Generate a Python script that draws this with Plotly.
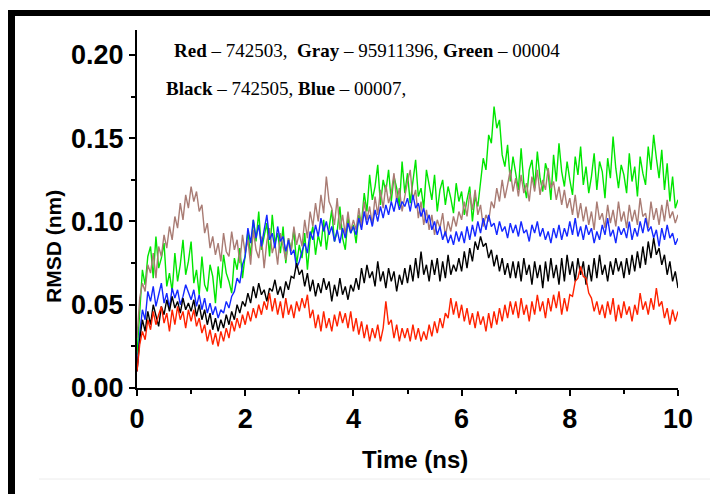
import plotly.graph_objects as go

time_ns = [round(i * 0.05, 2) for i in range(201)]

green = [
    0.020, 0.048, 0.071, 0.062, 0.079, 0.085, 0.066, 0.091, 0.072, 0.078, 0.087, 0.061, 0.069, 0.058, 0.081, 0.064, 0.074, 0.089, 0.068, 0.076,
    0.088, 0.063, 0.071, 0.056, 0.079, 0.062, 0.058, 0.074, 0.067, 0.051, 0.073, 0.060, 0.080, 0.069, 0.064, 0.057, 0.078, 0.071, 0.084, 0.066,
    0.081, 0.094, 0.079, 0.101, 0.088, 0.106, 0.083, 0.091, 0.099, 0.079, 0.104, 0.087, 0.093, 0.081, 0.097, 0.075, 0.090, 0.083, 0.095, 0.074,
    0.086, 0.078, 0.093, 0.071, 0.089, 0.097, 0.080, 0.092, 0.085, 0.101, 0.083, 0.096, 0.107, 0.088, 0.094, 0.109, 0.090, 0.083, 0.102, 0.093,
    0.098, 0.087, 0.104, 0.099, 0.117, 0.106, 0.128, 0.113, 0.121, 0.134, 0.110, 0.125, 0.118, 0.131, 0.112, 0.127, 0.120, 0.109, 0.136, 0.117,
    0.129, 0.111, 0.124, 0.137, 0.115, 0.120, 0.108, 0.131, 0.122, 0.113, 0.128, 0.106, 0.119, 0.125, 0.110, 0.121, 0.114, 0.105, 0.123, 0.112,
    0.118, 0.104, 0.113, 0.121, 0.100, 0.115, 0.109, 0.125, 0.138, 0.131, 0.152, 0.147, 0.169, 0.156, 0.161, 0.140, 0.133, 0.146, 0.124, 0.139,
    0.128, 0.119, 0.144, 0.123, 0.114, 0.131, 0.137, 0.120, 0.142, 0.126, 0.118, 0.135, 0.129, 0.113, 0.140, 0.124, 0.147, 0.130, 0.121, 0.136,
    0.125, 0.116, 0.139, 0.128, 0.145, 0.122, 0.133, 0.117, 0.127, 0.141, 0.119, 0.136, 0.130, 0.114, 0.138, 0.126, 0.151, 0.132, 0.120, 0.134,
    0.128, 0.117, 0.141, 0.124, 0.133, 0.115, 0.139, 0.129, 0.122, 0.145, 0.131, 0.152, 0.138, 0.126, 0.143, 0.119, 0.135, 0.112, 0.127, 0.108,
    0.113,
]

gray = [
    0.030, 0.054, 0.063, 0.058, 0.074, 0.069, 0.081, 0.066, 0.085, 0.079, 0.092, 0.084, 0.097, 0.089, 0.103, 0.096, 0.111, 0.101, 0.116, 0.108,
    0.121, 0.112, 0.118, 0.106, 0.110, 0.093, 0.099, 0.084, 0.091, 0.080, 0.087, 0.076, 0.093, 0.082, 0.079, 0.094, 0.083, 0.089, 0.075, 0.092,
    0.081, 0.089, 0.074, 0.095, 0.083, 0.078, 0.091, 0.072, 0.088, 0.096, 0.081, 0.087, 0.074, 0.093, 0.085, 0.077, 0.090, 0.082, 0.097, 0.086,
    0.093, 0.085, 0.101, 0.090, 0.106, 0.097, 0.111, 0.100, 0.116, 0.105, 0.127, 0.112, 0.108, 0.098, 0.114, 0.095, 0.104, 0.092, 0.106, 0.094,
    0.101, 0.095, 0.108, 0.097, 0.112, 0.101, 0.109, 0.098, 0.115, 0.104, 0.119, 0.108, 0.122, 0.111, 0.117, 0.129, 0.112, 0.120, 0.106, 0.116,
    0.124, 0.131, 0.113, 0.119, 0.102, 0.112, 0.098, 0.107, 0.095, 0.104, 0.092, 0.101, 0.096, 0.105, 0.091, 0.100, 0.094, 0.103, 0.097, 0.106,
    0.101, 0.112, 0.103, 0.117, 0.107, 0.119, 0.104, 0.110, 0.097, 0.104, 0.100, 0.112, 0.108, 0.120, 0.112, 0.125, 0.114, 0.122, 0.131, 0.118,
    0.126, 0.115, 0.128, 0.117, 0.123, 0.112, 0.127, 0.118, 0.131, 0.116, 0.125, 0.119, 0.132, 0.120, 0.124, 0.113, 0.121, 0.110, 0.119, 0.108,
    0.114, 0.104, 0.116, 0.102, 0.111, 0.100, 0.109, 0.098, 0.106, 0.095, 0.112, 0.101, 0.105, 0.096, 0.110, 0.099, 0.107, 0.097, 0.112, 0.100,
    0.106, 0.096, 0.110, 0.100, 0.107, 0.098, 0.114, 0.103, 0.105, 0.096, 0.112, 0.101, 0.108, 0.098, 0.110, 0.100, 0.113, 0.102, 0.106, 0.099,
    0.104,
]

blue = [
    0.010, 0.033, 0.047, 0.041, 0.058, 0.052, 0.061, 0.049, 0.056, 0.063, 0.051, 0.057, 0.048, 0.060, 0.054, 0.059, 0.050, 0.055, 0.062, 0.057,
    0.053, 0.059, 0.049, 0.056, 0.047, 0.054, 0.045, 0.051, 0.044, 0.049, 0.042, 0.047, 0.045, 0.052, 0.048, 0.055, 0.058, 0.066, 0.063, 0.074,
    0.079, 0.096, 0.087, 0.101, 0.090, 0.098, 0.085, 0.095, 0.104, 0.089, 0.093, 0.084, 0.097, 0.088, 0.091, 0.082, 0.089, 0.080, 0.083, 0.072,
    0.076, 0.082, 0.087, 0.081, 0.094, 0.089, 0.098, 0.091, 0.102, 0.094, 0.100, 0.092, 0.097, 0.088, 0.095, 0.087, 0.096, 0.090, 0.099, 0.093,
    0.097, 0.092, 0.102, 0.095, 0.106, 0.098, 0.104, 0.097, 0.107, 0.100, 0.109, 0.102, 0.110, 0.104, 0.112, 0.106, 0.114, 0.107, 0.112, 0.109,
    0.114, 0.106, 0.116, 0.108, 0.111, 0.103, 0.108, 0.099, 0.104, 0.095, 0.100, 0.092, 0.097, 0.089, 0.094, 0.087, 0.092, 0.086, 0.094, 0.088,
    0.094, 0.087, 0.097, 0.089, 0.098, 0.091, 0.100, 0.093, 0.102, 0.095, 0.104, 0.097, 0.099, 0.092, 0.100, 0.094, 0.097, 0.090, 0.099, 0.093,
    0.098, 0.091, 0.100, 0.093, 0.095, 0.088, 0.098, 0.093, 0.100, 0.091, 0.096, 0.089, 0.094, 0.087, 0.096, 0.090, 0.098, 0.089, 0.096, 0.091,
    0.100, 0.092, 0.102, 0.091, 0.097, 0.089, 0.098, 0.092, 0.096, 0.087, 0.094, 0.089, 0.098, 0.092, 0.102, 0.091, 0.095, 0.087, 0.097, 0.092,
    0.096, 0.090, 0.100, 0.089, 0.096, 0.091, 0.100, 0.093, 0.102, 0.094, 0.097, 0.090, 0.095, 0.085, 0.096, 0.089, 0.098, 0.090, 0.093, 0.086,
    0.090,
]

black = [
    0.010, 0.029, 0.041, 0.034, 0.046, 0.038, 0.050, 0.043, 0.037, 0.049, 0.044, 0.053, 0.046, 0.055, 0.048, 0.052, 0.045, 0.054, 0.047, 0.051,
    0.046, 0.053, 0.043, 0.050, 0.041, 0.047, 0.038, 0.045, 0.035, 0.042, 0.034, 0.041, 0.036, 0.044, 0.038, 0.046, 0.041, 0.050, 0.045, 0.052,
    0.049, 0.057, 0.051, 0.061, 0.054, 0.063, 0.056, 0.059, 0.052, 0.060, 0.058, 0.065, 0.056, 0.061, 0.054, 0.064, 0.059, 0.067, 0.066, 0.075,
    0.068, 0.071, 0.061, 0.069, 0.058, 0.065, 0.055, 0.063, 0.057, 0.066, 0.059, 0.064, 0.052, 0.062, 0.055, 0.066, 0.056, 0.061, 0.053, 0.062,
    0.058, 0.066, 0.059, 0.072, 0.063, 0.074, 0.066, 0.070, 0.061, 0.076, 0.064, 0.070, 0.060, 0.072, 0.064, 0.070, 0.058, 0.068, 0.062, 0.072,
    0.063, 0.074, 0.064, 0.078, 0.066, 0.082, 0.068, 0.074, 0.064, 0.077, 0.068, 0.078, 0.064, 0.076, 0.066, 0.080, 0.068, 0.074, 0.070, 0.078,
    0.070, 0.082, 0.072, 0.084, 0.076, 0.088, 0.083, 0.091, 0.085, 0.087, 0.078, 0.083, 0.073, 0.080, 0.070, 0.078, 0.068, 0.075, 0.066, 0.076,
    0.066, 0.076, 0.064, 0.078, 0.068, 0.074, 0.062, 0.076, 0.066, 0.074, 0.060, 0.076, 0.064, 0.078, 0.066, 0.074, 0.062, 0.078, 0.064, 0.080,
    0.068, 0.076, 0.064, 0.078, 0.068, 0.076, 0.062, 0.074, 0.064, 0.078, 0.066, 0.080, 0.068, 0.074, 0.064, 0.076, 0.068, 0.078, 0.070, 0.076,
    0.066, 0.078, 0.068, 0.080, 0.070, 0.082, 0.072, 0.085, 0.074, 0.088, 0.078, 0.090, 0.080, 0.084, 0.074, 0.080, 0.068, 0.076, 0.064, 0.070,
    0.060,
]

red = [
    0.010, 0.026, 0.034, 0.029, 0.041, 0.035, 0.046, 0.038, 0.044, 0.049, 0.039, 0.045, 0.034, 0.047, 0.038, 0.049, 0.041, 0.046, 0.036, 0.047,
    0.040, 0.047, 0.037, 0.042, 0.033, 0.038, 0.028, 0.035, 0.026, 0.033, 0.025, 0.034, 0.028, 0.036, 0.030, 0.040, 0.034, 0.042, 0.036, 0.044,
    0.038, 0.046, 0.040, 0.048, 0.042, 0.050, 0.044, 0.052, 0.047, 0.057, 0.046, 0.054, 0.044, 0.052, 0.042, 0.054, 0.044, 0.050, 0.042, 0.052,
    0.046, 0.054, 0.048, 0.056, 0.042, 0.047, 0.036, 0.044, 0.034, 0.046, 0.036, 0.042, 0.034, 0.044, 0.037, 0.046, 0.039, 0.045, 0.036, 0.046,
    0.034, 0.042, 0.032, 0.040, 0.030, 0.038, 0.028, 0.036, 0.030, 0.038, 0.028, 0.036, 0.052, 0.038, 0.041, 0.030, 0.038, 0.028, 0.036, 0.030,
    0.036, 0.028, 0.038, 0.029, 0.036, 0.028, 0.034, 0.029, 0.038, 0.031, 0.040, 0.033, 0.042, 0.036, 0.045, 0.042, 0.054, 0.044, 0.052, 0.042,
    0.050, 0.040, 0.048, 0.038, 0.045, 0.036, 0.046, 0.038, 0.043, 0.034, 0.045, 0.036, 0.046, 0.038, 0.048, 0.040, 0.050, 0.042, 0.052, 0.044,
    0.052, 0.042, 0.054, 0.044, 0.050, 0.040, 0.052, 0.044, 0.056, 0.046, 0.052, 0.042, 0.054, 0.046, 0.056, 0.048, 0.058, 0.044, 0.054, 0.046,
    0.056, 0.055, 0.064, 0.066, 0.073, 0.067, 0.066, 0.057, 0.054, 0.046, 0.052, 0.044, 0.050, 0.042, 0.052, 0.044, 0.054, 0.040, 0.050, 0.042,
    0.052, 0.044, 0.049, 0.040, 0.050, 0.044, 0.057, 0.047, 0.052, 0.044, 0.054, 0.047, 0.060, 0.049, 0.052, 0.042, 0.048, 0.038, 0.047, 0.040,
    0.046,
]

series = [
    ("Green", green, "#00e600"),
    ("Gray", gray, "#a97c74"),
    ("Blue", blue, "#1428ff"),
    ("Black", black, "#000000"),
    ("Red", red, "#ff2200"),
]

x_ticks = [0, 2, 4, 6, 8, 10]
y_ticks = [0.00, 0.05, 0.10, 0.15, 0.20]
y_tick_labels = ["0.00", "0.05", "0.10", "0.15", "0.20"]

fig = go.Figure()
for name, vals, col in series:
    fig.add_trace(go.Scatter(x=time_ns, y=vals, mode="lines", name=name,
                             line=dict(color=col, width=1.4), showlegend=False))

sans = "Liberation Sans Narrow, Arial Narrow, Liberation Sans, Arial"
tick_font = dict(family=sans, size=27, color="black", weight="bold")

# plot area in window pixels: x 137..678, y 30..388
L, R, T, B = 137, 678, 30, 388

fig.update_layout(
    width=710, height=494,
    margin=dict(l=L, r=710 - R, t=T, b=494 - B),
    paper_bgcolor="white", plot_bgcolor="white",
    xaxis=dict(range=[0, 10], tickvals=x_ticks, ticktext=[str(v) for v in x_ticks],
               showline=True, linecolor="black", linewidth=2, ticks="outside",
               ticklen=6, tickwidth=2, tickcolor="black", showgrid=False, zeroline=False,
               tickfont=tick_font,
               minor=dict(dtick=1, ticks="outside", ticklen=4, tickwidth=1.5, tickcolor="black", showgrid=False)),
    yaxis=dict(range=[0, 0.215], tickvals=y_ticks, ticktext=y_tick_labels,
               showline=True, linecolor="black", linewidth=2, ticks="outside",
               ticklen=6, tickwidth=2, tickcolor="black", showgrid=False, zeroline=False,
               tickfont=tick_font,
               minor=dict(dtick=0.025, ticks="outside", ticklen=4, tickwidth=1.5, tickcolor="black", showgrid=False)),
)

def px_x(p):
    return (p - L) / (R - L)

def px_y(p):
    return (B - p) / (B - T)

# axis titles
fig.add_annotation(xref="paper", yref="paper", x=px_x(415), y=px_y(459), xanchor="center", yanchor="middle",
                   showarrow=False, text="Time (ns)", font=dict(family=sans, size=24, color="black", weight="bold"))
fig.add_annotation(xref="paper", yref="paper", x=px_x(53), y=px_y(247), xanchor="center", yanchor="middle",
                   showarrow=False, textangle=-90, text="RMSD (nm)",
                   font=dict(family=sans, size=21, color="black", weight="bold"))

ann_font = dict(family="Liberation Serif, Times New Roman, serif", size=19, color="black")
fig.add_annotation(xref="paper", yref="paper", x=px_x(172), y=px_y(50),
                   xanchor="left", yanchor="middle", showarrow=False, font=ann_font,
                   text="<b>Red</b> \u2013 742503,  <b>Gray</b> \u2013 95911396, <b>Green</b> \u2013 00004")
fig.add_annotation(xref="paper", yref="paper", x=px_x(164), y=px_y(88),
                   xanchor="left", yanchor="middle", showarrow=False, font=ann_font,
                   text="<b>Black</b> \u2013 742505, <b>Blue</b> \u2013 00007,")

# frame bars (top and left) and faint bottom rule
fig.add_shape(type="rect", xref="paper", yref="paper", x0=px_x(8), x1=px_x(712), y0=px_y(16), y1=px_y(10),
              fillcolor="black", line=dict(width=0), layer="above")
fig.add_shape(type="rect", xref="paper", yref="paper", x0=px_x(8), x1=px_x(15), y0=px_y(496), y1=px_y(10),
              fillcolor="black", line=dict(width=0), layer="above")
fig.add_shape(type="line", xref="paper", yref="paper", x0=px_x(39), x1=px_x(712), y0=px_y(479), y1=px_y(479),
              line=dict(color="#ececec", width=1), layer="above")

fig.write_html("out.html", config={"displayModeBar": False},
               post_script="document.body.style.margin='0px';")
